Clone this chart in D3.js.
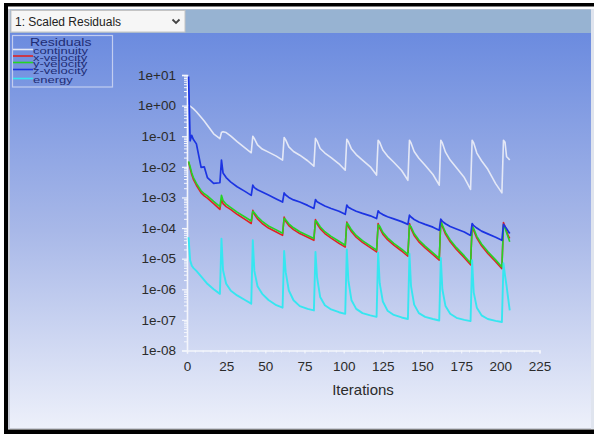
<!DOCTYPE html>
<html><head><meta charset="utf-8">
<script src="https://cdn.jsdelivr.net/npm/d3@7"></script>
<style>
html,body{margin:0;padding:0;background:#fff;}
svg{display:block;font-family:"Liberation Sans",Arial,sans-serif;}
</style></head>
<body><svg id="c" width="594" height="434"></svg>
<script>
// ---------- data ----------
const iterations = [1,2,3,4,6,9,11,13,17,21,
  22,23,25,28,32,37,41, 42,43,45,48,52,57,61, 62,63,65,68,72,77,81,
  82,83,85,88,92,97,101, 102,103,105,108,112,117,121, 122,123,125,128,132,137,141,
  142,143,145,148,152,157,161, 162,163,165,168,172,177,181, 182,183,185,188,192,197,201,
  202,203,204,205,206];

const continuity = [1.07,0.955,0.871,0.794,0.631,0.417,0.316,0.229,0.120,8.32e-2,
  0.132,0.141,0.132,0.1,6.61e-2,4.17e-2,2.88e-2,
  0.1,8.32e-2,5.25e-2,3.80e-2,3.02e-2,2.24e-2,1.66e-2,
  9.12e-2,7.59e-2,4.47e-2,3.16e-2,2.40e-2,1.58e-2,1.05e-2,
  8.51e-2,7.08e-2,3.98e-2,2.82e-2,2.0e-2,1.26e-2,7.76e-3,
  7.94e-2,6.61e-2,3.80e-2,2.51e-2,1.66e-2,1.0e-2,5.37e-3,
  7.41e-2,6.31e-2,3.55e-2,2.24e-2,1.41e-2,7.59e-3,3.63e-3,
  7.41e-2,6.03e-2,3.16e-2,1.91e-2,1.12e-2,5.62e-3,2.51e-3,
  7.41e-2,6.03e-2,3.02e-2,1.66e-2,9.33e-3,4.47e-3,1.82e-3,
  7.41e-2,6.03e-2,2.82e-2,1.58e-2,8.32e-3,2.82e-3,1.41e-3,
  7.41e-2,6.31e-2,2.14e-2,1.91e-2,1.66e-2];

const xVelocity = [1.45e-2,8.91e-3,5.62e-3,3.98e-3,2.51e-3,1.41e-3,1.12e-3,9.55e-4,6.31e-4,4.07e-4,
  8.51e-4,6.31e-4,5.01e-4,3.98e-4,2.82e-4,1.91e-4,1.41e-4,
  3.80e-4,2.82e-4,2.0e-4,1.41e-4,1.0e-4,7.41e-5,5.75e-5,
  2.29e-4,1.66e-4,1.20e-4,8.91e-5,6.61e-5,5.01e-5,3.98e-5,
  1.91e-4,1.38e-4,9.55e-5,6.61e-5,4.68e-5,3.16e-5,2.40e-5,
  1.58e-4,1.12e-4,7.59e-5,5.01e-5,3.39e-5,2.29e-5,1.66e-5,
  1.41e-4,1.0e-4,6.31e-5,4.17e-5,2.75e-5,1.78e-5,1.20e-5,
  1.41e-4,9.55e-5,5.75e-5,3.55e-5,2.24e-5,1.35e-5,8.91e-6,
  1.78e-4,1.12e-4,6.31e-5,3.55e-5,2.0e-5,1.07e-5,6.31e-6,
  1.26e-4,8.32e-5,4.68e-5,2.63e-5,1.48e-5,7.94e-6,4.68e-6,
  1.51e-4,1.12e-4,7.94e-5,5.62e-5,4.57e-5];

const yVelocity = [1.51e-2,1.0e-2,6.46e-3,4.57e-3,2.88e-3,1.66e-3,1.32e-3,1.12e-3,7.41e-4,5.01e-4,
  1.17e-3,7.94e-4,6.03e-4,4.68e-4,3.31e-4,2.29e-4,1.70e-4,
  3.55e-4,3.16e-4,2.34e-4,1.66e-4,1.17e-4,8.71e-5,6.76e-5,
  2.09e-4,1.86e-4,1.38e-4,1.02e-4,7.59e-5,5.75e-5,4.57e-5,
  1.74e-4,1.58e-4,1.10e-4,7.59e-5,5.37e-5,3.72e-5,2.75e-5,
  1.45e-4,1.29e-4,8.71e-5,5.75e-5,3.89e-5,2.63e-5,1.91e-5,
  1.26e-4,1.15e-4,7.24e-5,4.79e-5,3.16e-5,2.04e-5,1.38e-5,
  1.26e-4,1.10e-4,6.61e-5,4.07e-5,2.57e-5,1.55e-5,1.02e-5,
  1.58e-4,1.26e-4,7.24e-5,4.07e-5,2.29e-5,1.23e-5,7.24e-6,
  1.12e-4,9.55e-5,5.37e-5,3.02e-5,1.70e-5,9.12e-6,5.37e-6,
  1.26e-4,1.0e-4,7.08e-5,5.01e-5,3.55e-5];

const zVelocity = [8.91,7.08e-2,0.107,7.94e-2,5.62e-2,9.55e-3,1.0e-2,4.47e-3,2.88e-3,3.02e-3,
  1.66e-2,6.31e-3,4.47e-3,3.16e-3,2.24e-3,1.58e-3,1.17e-3,
  2.51e-3,2.09e-3,1.78e-3,1.51e-3,1.20e-3,8.91e-4,7.08e-4,
  1.41e-3,1.20e-3,1.0e-3,8.32e-4,7.08e-4,5.50e-4,4.37e-4,
  8.51e-4,7.24e-4,6.31e-4,5.25e-4,4.37e-4,3.55e-4,2.82e-4,
  5.62e-4,4.79e-4,4.17e-4,3.55e-4,3.02e-4,2.51e-4,2.04e-4,
  3.63e-4,3.16e-4,2.75e-4,2.34e-4,2.0e-4,1.62e-4,1.32e-4,
  2.63e-4,2.29e-4,1.91e-4,1.58e-4,1.32e-4,1.07e-4,8.51e-5,
  1.95e-4,1.66e-4,1.38e-4,1.12e-4,9.33e-5,7.41e-5,5.75e-5,
  1.41e-4,1.20e-4,1.0e-4,7.94e-5,6.46e-5,5.01e-5,3.98e-5,
  1.32e-4,1.12e-4,9.55e-5,7.94e-5,6.61e-5];

const energy = [5.01e-5,8.91e-6,6.03e-6,5.01e-6,3.98e-6,2.63e-6,2.0e-6,1.51e-6,1.0e-6,7.08e-7,
  4.47e-5,4.17e-6,1.51e-6,8.91e-7,6.31e-7,4.47e-7,3.39e-7,
  3.98e-5,3.98e-6,1.26e-6,7.08e-7,4.47e-7,3.02e-7,2.51e-7,
  1.78e-5,3.63e-6,9.12e-7,4.37e-7,2.82e-7,2.29e-7,2.04e-7,
  1.66e-5,2.51e-6,5.62e-7,3.02e-7,2.19e-7,1.78e-7,1.58e-7,
  2.0e-5,1.95e-6,4.37e-7,2.29e-7,1.66e-7,1.41e-7,1.26e-7,
  1.58e-5,1.58e-6,3.98e-7,2.0e-7,1.45e-7,1.20e-7,1.07e-7,
  1.45e-5,1.26e-6,3.16e-7,1.66e-7,1.26e-7,1.07e-7,9.55e-8,
  1.05e-5,1.0e-6,2.82e-7,1.58e-7,1.17e-7,1.0e-7,9.12e-8,
  8.91e-6,7.94e-7,2.51e-7,1.41e-7,1.07e-7,9.33e-8,8.51e-8,
  7.08e-6,2.82e-6,1.26e-6,5.01e-7,2.04e-7];

const seriesNames = ["continuity","x-velocity","y-velocity","z-velocity","energy"];
const seriesColors = ["#e4e8f6","#e02424","#24d424","#1c34e2","#36e6f0"];
const seriesValues = [continuity, xVelocity, yVelocity, zVelocity, energy];
const yTickValues = [1e1,1e0,1e-1,1e-2,1e-3,1e-4,1e-5,1e-6,1e-7,1e-8];
const yTickLabels = ["1e+01","1e+00","1e-01","1e-02","1e-03","1e-04","1e-05","1e-06","1e-07","1e-08"];
const xTickValues = [0,25,50,75,100,125,150,175,200,225];
const dropdownLabel = "1: Scaled Residuals";
const legendTitle = "Residuals";
const xAxisTitle = "Iterations";

// ---------- drawing ----------
const svg = d3.select("#c");
const defs = svg.append("defs");
const grad = defs.append("linearGradient").attr("id","bg").attr("x1",0).attr("y1",0).attr("x2",0).attr("y2",1);
grad.append("stop").attr("offset","0").attr("stop-color","#6b8bdf");
grad.append("stop").attr("offset","0.5").attr("stop-color","#a8b8e8");
grad.append("stop").attr("offset","1").attr("stop-color","#edf0fa");

// frame
svg.append("rect").attr("x",4).attr("y",3).attr("width",590).attr("height",431).attr("fill","#000");
svg.append("rect").attr("x",8).attr("y",6.5).attr("width",586).attr("height",423).attr("fill","#fff");
svg.append("rect").attr("x",8).attr("y",9).attr("width",586).attr("height",420).attr("fill","#c9ccd6");
svg.append("rect").attr("x",10).attr("y",33).attr("width",581).attr("height",395).attr("fill","url(#bg)");
// header bar
svg.append("rect").attr("x",10).attr("y",9.5).attr("width",581).attr("height",23.5).attr("fill","#97b3d2");
svg.append("rect").attr("x",591).attr("y",9).attr("width",3).attr("height",420).attr("fill","#dfe4ee");
// dropdown
svg.append("rect").attr("x",11).attr("y",10.5).attr("width",174).attr("height",21.5)
  .attr("fill","#f6f6f6").attr("stroke","#c4c4c4");
svg.append("text").attr("x",15).attr("y",26).attr("font-size",12).attr("fill","#222")
  .attr("font-family","'Liberation Sans',Arial,sans-serif").text(dropdownLabel);
svg.append("path").attr("d","M172.5,19.5 L176,23 L179.5,19.5").attr("fill","none")
  .attr("stroke","#444").attr("stroke-width",1.8);

// scales
const x = d3.scaleLinear().domain([0,225]).range([187,539.5]);
const y = d3.scaleLog().domain([1e-8,1e1]).range([350.5,75]);

// axes
const axisColor = "#f4f6fc";
const gy = svg.append("g").attr("transform","translate(187,0)");
const yMinor = [];
for (let e=-8;e<1;e++) for (let m=2;m<10;m++) yMinor.push(m*Math.pow(10,e));
gy.call(d3.axisLeft(y).tickValues(yMinor).tickSize(3).tickFormat(""));
gy.call(g=>{g.selectAll("line").attr("stroke",axisColor);});
const gy2 = svg.append("g").attr("transform","translate(187,0)");
gy2.call(d3.axisLeft(y).tickValues(yTickValues).tickSize(5).tickPadding(6)
  .tickFormat((d,i)=>yTickLabels[i]));
gy2.select(".domain").attr("stroke",axisColor).attr("stroke-width",1.6);
gy.select(".domain").remove();
gy2.selectAll("line").attr("stroke",axisColor).attr("stroke-width",1.2);
gy2.selectAll("text").attr("fill","#2b2b2b").attr("font-size",13.5)
  .attr("font-family","'Liberation Sans',Arial,sans-serif");

const xMinor = d3.range(0,226,5);
const gx = svg.append("g").attr("transform","translate(0,350.5)");
gx.call(d3.axisBottom(x).tickValues(xMinor).tickSize(2).tickFormat(""));
gx.select(".domain").remove();
gx.selectAll("line").attr("stroke",axisColor);
const gx2 = svg.append("g").attr("transform","translate(0,350.5)");
gx2.call(d3.axisBottom(x).tickValues(xTickValues).tickSize(3).tickPadding(8));
gx2.select(".domain").attr("stroke",axisColor).attr("stroke-width",1.6);
gx2.selectAll("line").attr("stroke",axisColor);
gx2.selectAll("text").attr("fill","#2b2b2b").attr("font-size",13.5)
  .attr("font-family","'Liberation Sans',Arial,sans-serif");

svg.append("text").attr("x",363).attr("y",395).attr("text-anchor","middle")
  .attr("font-size",15).attr("fill","#2b2b2b").text(xAxisTitle);

// lines
const line = d3.line().x((d,i)=>x(iterations[i])).y(d=>y(d));
const lineWidths = [1.6,1.6,1.6,1.7,1.9];
[0,1,2,3,4].forEach(k=>{
  svg.append("path").datum(seriesValues[k]).attr("d",line)
    .attr("fill","none").attr("stroke",seriesColors[k]).attr("stroke-width",lineWidths[k])
    .attr("stroke-linejoin","round");
});

// legend
defs.append("clipPath").attr("id","lc").append("rect").attr("x",12).attr("y",35).attr("width",101).attr("height",52);
svg.append("rect").attr("x",12.5).attr("y",35.5).attr("width",100).attr("height",51.5)
  .attr("fill","none").attr("stroke","#c2cdf0").attr("stroke-width",1.2);
const lg = svg.append("g").attr("clip-path","url(#lc)");
lg.append("text").attr("transform","translate(30,46) scale(1,0.75)")
  .attr("font-size",14).attr("fill","#1e2c74").text(legendTitle);
const legendY = [50.5,57,63.5,70.5,79.5];
seriesNames.forEach((n,i)=>{
  lg.append("line").attr("x1",13).attr("x2",33).attr("y1",legendY[i]-1).attr("y2",legendY[i]-1)
    .attr("stroke",seriesColors[i]).attr("stroke-width",1.6);
  lg.append("text").attr("transform",`translate(33,${legendY[i]+3.5}) scale(1,0.68)`)
    .attr("font-size",13).attr("fill","#1e2c74").text(n);
});
</script></body></html>
